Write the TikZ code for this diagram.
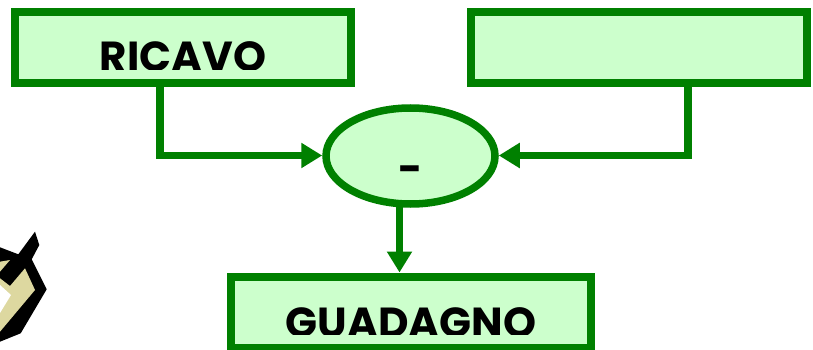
\documentclass[tikz,border=0pt]{standalone}
\usepackage{fontspec}
\setmainfont{Poppins}
\usetikzlibrary{arrows.meta,shapes.geometric}
\definecolor{gr}{HTML}{008000}
\definecolor{lt}{HTML}{CCFFCC}
\definecolor{tan1}{HTML}{DDD8A0}
\tikzset{
 box/.style={draw=gr,fill=lt,line width=8pt,rectangle,inner sep=0pt,minimum width=#1,minimum height=71pt},
 oval/.style={draw=gr,fill=lt,line width=7.5pt,ellipse,inner sep=0pt,minimum width=169pt,minimum height=96pt},
 conn/.style={draw=gr,line width=7.5pt,line cap=butt,line join=miter},
 arr/.style={-{Triangle[length=21pt,width=24pt]}},
 lab/.style={font=\bfseries\fontsize{42}{42}\selectfont,text=black,inner sep=0pt}
}
\begin{document}
\begin{tikzpicture}[x=1pt,y=-1pt]
\useasboundingbox (0,0) rectangle (813,350);
\clip (0,0) rectangle (813,350);
% icon
\fill[black] (0,247.3) -- (18.3,254.3) -- (35,231.7) -- (39.3,245) -- (31.7,259.3) -- (46.7,289.3) -- (20.7,333.3) -- (0,341.7) -- cycle;
\fill[tan1] (0,261.7) -- (10,260) -- (0,271.7) -- cycle;
\fill[tan1] (0,278.3) -- (10,286) -- (25,268.3) -- (35,290) -- (0,331.7) -- cycle;
\fill[white] (0,285) -- (11,295) -- (0,313) -- cycle;
% nodes
\node[box=336pt] (r) at (183,47.5) {};
\node[box=336pt] (c) at (639,48) {};
\node[box=360pt] (g) at (411,312) {};
\node[oval] (e) at (410.5,156) {};
% cropped labels
\begin{scope}
\clip (60,20) rectangle (300,69.5);
\node[lab,anchor=base] (t1) at (183,72) {RICAVO};
\end{scope}
\begin{scope}
\clip (260,290) rectangle (560,334.5);
\node[lab,anchor=base] (t3) at (411,337) {GUADAGNO};
\end{scope}
\node[lab,anchor=center] (m) at (411,175) {-};
% connector anchors
\coordinate (a1) at (r.south -| 160,0);
\coordinate (a2) at (c.south -| 688,0);
\coordinate (a3) at (399.5,205);
\coordinate (b1) at (160,155.5);
\coordinate (b2) at (688,155.5);
\draw[conn,arr] (a1) -- (b1) -- (b1 -| e.west);
\draw[conn,arr] (a2) -- (b2) -- (b2 -| e.east);
\draw[conn,arr] (a3) -- (a3 |- g.north);
\end{tikzpicture}
\end{document}
